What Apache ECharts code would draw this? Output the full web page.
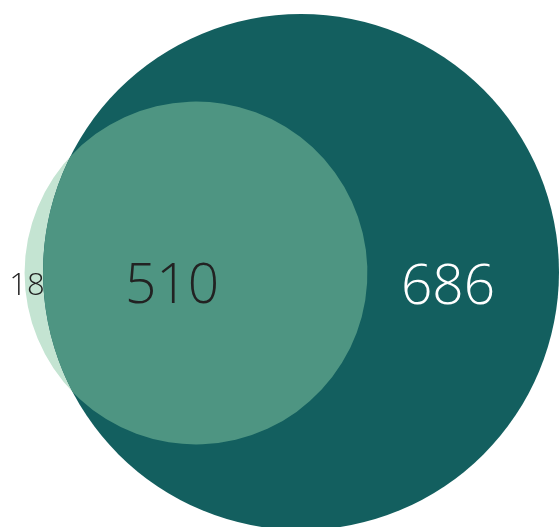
<!DOCTYPE html>
<html>
<head>
<meta charset="utf-8">
<script src="https://cdn.jsdelivr.net/npm/echarts@6/dist/echarts.min.js"></script>
<style>
  html, body { margin: 0; padding: 0; background: #fff; }
  #chart { width: 559px; height: 527px; }
</style>
</head>
<body>
<div id="chart"></div>
<script>
// 区域数量
var onlyA = 18;
var both = 510;
var onlyB = 686;
var regionLabels = ['18', '510', '686'];
var setTotals = [onlyA + both, both + onlyB];

// 版式 (像素坐标)
var setCenters = [[196, 273], [301, 272]];
var labelPos = [[27, 286], [172, 287], [448, 288]];
var scaleK = 258 / Math.sqrt(setTotals[1]);

var colorA = '#c4e4d2';
var colorB = '#135f5f';
var colorAB = '#4e9582';

var myChart = echarts.init(document.getElementById('chart'));

function radiusOf(total) {
  return scaleK * Math.sqrt(total);
}

var circleData = [
  [setCenters[0][0], setCenters[0][1], setTotals[0]],
  [setCenters[1][0], setCenters[1][1], setTotals[1]]
];

var option = {
  animation: false,
  grid: { left: 0, top: 0, width: 559, height: 527 },
  xAxis: { type: 'value', min: 0, max: 559, show: false },
  yAxis: { type: 'value', min: 0, max: 527, inverse: true, show: false },
  series: [
    {
      type: 'custom',
      coordinateSystem: 'cartesian2d',
      data: circleData,
      renderItem: function (params, api) {
        var i = params.dataIndex;
        var c = api.coord([api.value(0), api.value(1)]);
        var r = api.size([radiusOf(api.value(2)), 0])[0];
        return {
          type: 'circle',
          shape: { cx: c[0], cy: c[1], r: r },
          style: { fill: i === 0 ? colorA : colorB }
        };
      }
    },
    {
      // 交集部分
      type: 'custom',
      coordinateSystem: 'cartesian2d',
      data: [[0]],
      renderItem: function (params, api) {
        var c1 = api.coord(setCenters[0]);
        var c2 = api.coord(setCenters[1]);
        var r1 = api.size([radiusOf(setTotals[0]), 0])[0];
        var r2 = api.size([radiusOf(setTotals[1]), 0])[0];
        var dx = c2[0] - c1[0], dy = c2[1] - c1[1];
        var d = Math.sqrt(dx * dx + dy * dy);
        var a = (d * d + r1 * r1 - r2 * r2) / (2 * d);
        var h = Math.sqrt(r1 * r1 - a * a);
        var ux = dx / d, uy = dy / d;
        var px = c1[0] + a * ux, py = c1[1] + a * uy;
        var p1 = [px + h * uy, py - h * ux];
        var p2 = [px - h * uy, py + h * ux];
        var top = p1[1] < p2[1] ? p1 : p2;
        var bot = p1[1] < p2[1] ? p2 : p1;
        var large1 = a < 0 ? 1 : 0;
        var large2 = (d - a) < 0 ? 1 : 0;
        var path = 'M' + top[0] + ' ' + top[1] +
          ' A' + r1 + ' ' + r1 + ' 0 ' + large1 + ' 1 ' + bot[0] + ' ' + bot[1] +
          ' A' + r2 + ' ' + r2 + ' 0 ' + large2 + ' 1 ' + top[0] + ' ' + top[1] + ' Z';
        return {
          type: 'path',
          shape: { pathData: path },
          style: { fill: colorAB }
        };
      }
    },
    {
      // 数字标签
      type: 'custom',
      coordinateSystem: 'cartesian2d',
      data: [
        [labelPos[0][0], labelPos[0][1]],
        [labelPos[1][0], labelPos[1][1]],
        [labelPos[2][0], labelPos[2][1]]
      ],
      renderItem: function (params, api) {
        var i = params.dataIndex;
        var p = api.coord([api.value(0), api.value(1)]);
        return {
          type: 'text',
          x: p[0],
          y: p[1],
          style: {
            text: regionLabels[i],
            fontFamily: 'Open Sans',
            fontWeight: 300,
            fontSize: i === 0 ? 31 : 55,
            fill: i === 2 ? '#ffffff' : '#222222',
            align: 'center',
            verticalAlign: 'middle'
          }
        };
      }
    }
  ]
};

myChart.setOption(option);
</script>
</body>
</html>
